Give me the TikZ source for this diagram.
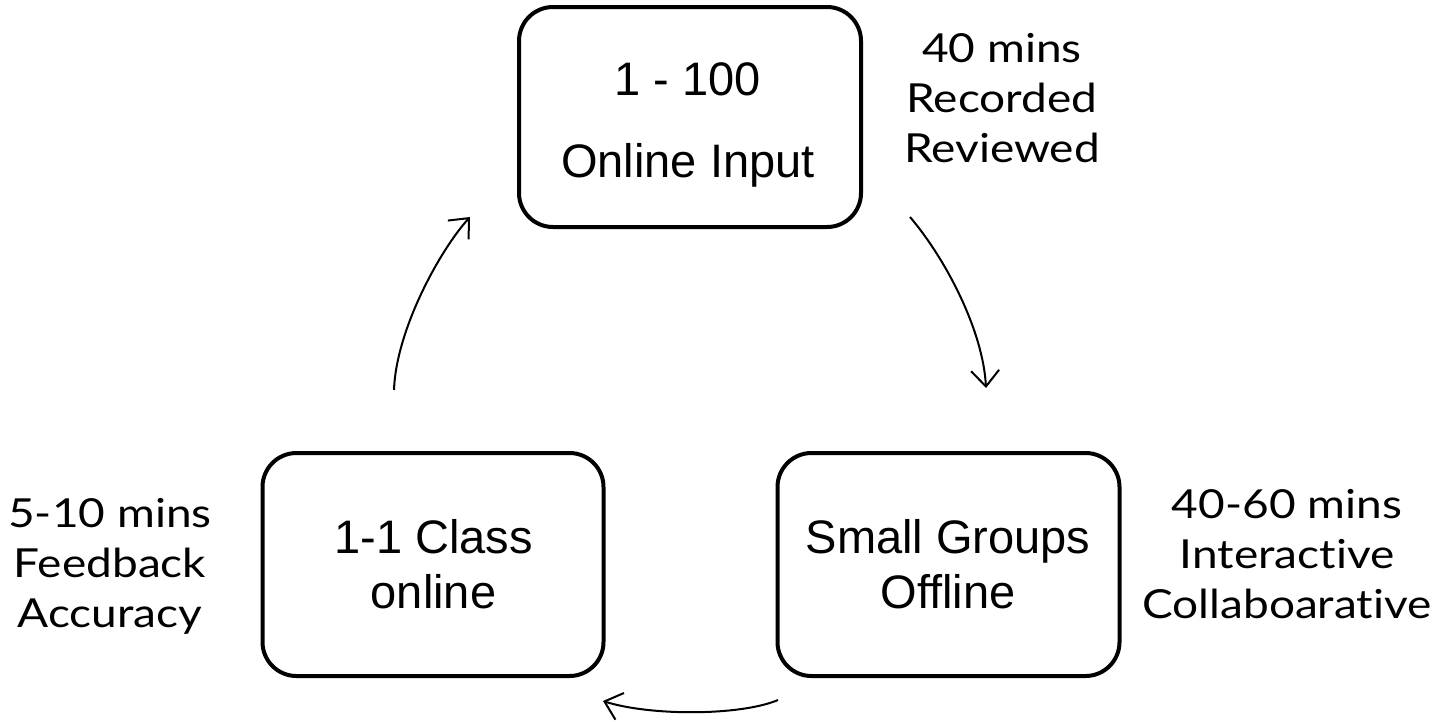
\documentclass[tikz,border=0pt]{standalone}
\usepackage{fontspec}
\setmainfont{Liberation Sans}[Ligatures=CommonOff]
\newfontfamily\sidefont{Lato}[Ligatures=CommonOff, FakeStretch=1.15]
\usetikzlibrary{arrows.meta}
\newcommand\mylines[1]{\begin{tabular}[t]{@{}c@{}}#1\end{tabular}}
\begin{document}
\begin{tikzpicture}[x=1pt,y=-1pt,
  box/.style={draw, line width=4pt, rounded corners=34pt, inner sep=0pt},
  boxtext/.style={font=\fontsize{47}{55}\selectfont, anchor=base, inner sep=0pt},
  side/.style={font=\sidefont\fontsize{40}{50}\selectfont, anchor=base, inner sep=0pt},
  flow/.style={line width=2pt, -{Straight Barb[length=16pt,width=28pt,line width=2pt]}}]
\useasboundingbox (0,0) rectangle (1445,721);
% boxes
\node[box, minimum width=342pt, minimum height=220pt] (top) at (690,117) {};
\node[box, minimum width=341pt, minimum height=223pt] (left) at (433,564.5) {};
\node[box, minimum width=342pt, minimum height=223pt] (right) at (948.5,564.5) {};
% box texts
\node[boxtext] (toptext) at (688,95) {\mylines{1 - 100\\[27pt]Online Input}};
\node[boxtext] (lefttext) at (433.5,553) {\mylines{1-1 Class\\online}};
\node[boxtext] (righttext) at (948,553) {\mylines{Small Groups\\Offline}};
% side labels
\node[side] (toplabel) at (1002,62) {\mylines{40 mins\\Recorded\\Reviewed}};
\node[side] (leftlabel) at (110,527) {\mylines{5-10 mins\\Feedback\\Accuracy}};
\node[side] (rightlabel) at (1287,518) {\mylines{40-60 mins\\Interactive\\Collaboarative}};
% connectors
\coordinate (a1s) at (910,217);
\coordinate (a1e) at (986,388);
\coordinate (a2s) at (778,700);
\coordinate (a2e) at (603,701);
\coordinate (a3s) at (394,390);
\coordinate (a3e) at (470,217);
\draw[flow] (a1s) .. controls (945,258) and (983,330) .. (a1e);
\draw[flow] (a2s) .. controls (740,716) and (650,716) .. (a2e);
\draw[flow] (a3s) .. controls (396,330) and (440,250) .. (a3e);
\end{tikzpicture}
\end{document}
